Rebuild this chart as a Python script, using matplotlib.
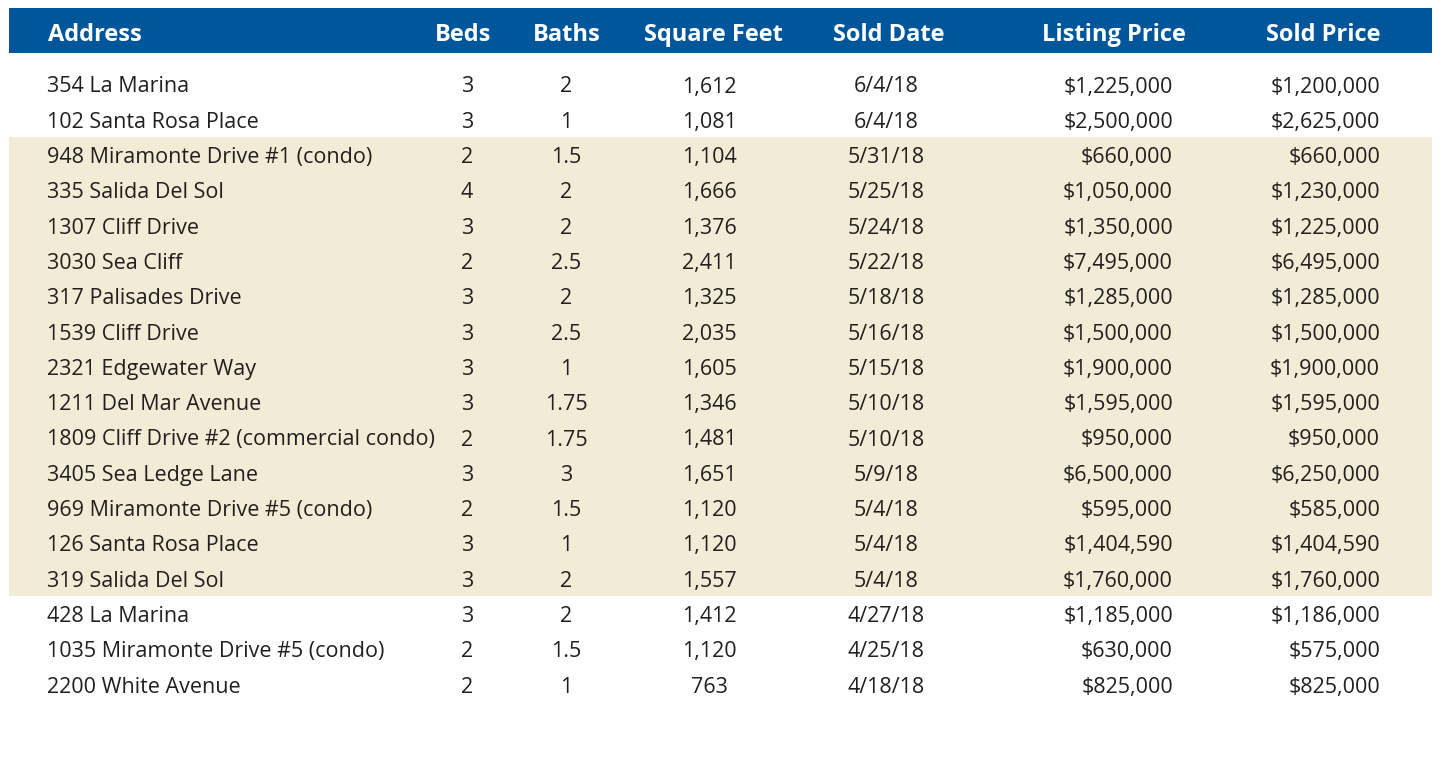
import matplotlib.pyplot as plt
from matplotlib.patches import Rectangle

plt.rcParams['font.family'] = ['Open Sans', 'DejaVu Sans']

headers = ["Address", "Beds", "Baths", "Square Feet", "Sold Date", "Listing Price", "Sold Price"]

addresses = [
    "354 La Marina", "102 Santa Rosa Place", "948 Miramonte Drive #1 (condo)",
    "335 Salida Del Sol", "1307 Cliff Drive", "3030 Sea Cliff", "317 Palisades Drive",
    "1539 Cliff Drive", "2321 Edgewater Way", "1211 Del Mar Avenue",
    "1809 Cliff Drive #2 (commercial condo)", "3405 Sea Ledge Lane",
    "969 Miramonte Drive #5 (condo)", "126 Santa Rosa Place", "319 Salida Del Sol",
    "428 La Marina", "1035 Miramonte Drive #5 (condo)", "2200 White Avenue",
]
beds = ["3", "3", "2", "4", "3", "2", "3", "3", "3", "3", "2", "3", "2", "3", "3", "3", "2", "2"]
baths = ["2", "1", "1.5", "2", "2", "2.5", "2", "2.5", "1", "1.75", "1.75", "3", "1.5", "1", "2",
         "2", "1.5", "1"]
sq_feet = ["1,612", "1,081", "1,104", "1,666", "1,376", "2,411", "1,325", "2,035", "1,605",
           "1,346", "1,481", "1,651", "1,120", "1,120", "1,557", "1,412", "1,120", "763"]
sold_dates = ["6/4/18", "6/4/18", "5/31/18", "5/25/18", "5/24/18", "5/22/18", "5/18/18",
              "5/16/18", "5/15/18", "5/10/18", "5/10/18", "5/9/18", "5/4/18", "5/4/18",
              "5/4/18", "4/27/18", "4/25/18", "4/18/18"]
listing_prices = ["$1,225,000", "$2,500,000", "$660,000", "$1,050,000", "$1,350,000",
                  "$7,495,000", "$1,285,000", "$1,500,000", "$1,900,000", "$1,595,000",
                  "$950,000", "$6,500,000", "$595,000", "$1,404,590", "$1,760,000",
                  "$1,185,000", "$630,000", "$825,000"]
sold_prices = ["$1,200,000", "$2,625,000", "$660,000", "$1,230,000", "$1,225,000",
               "$6,495,000", "$1,285,000", "$1,500,000", "$1,900,000", "$1,595,000",
               "$950,000", "$6,250,000", "$585,000", "$1,404,590", "$1,760,000",
               "$1,186,000", "$575,000", "$825,000"]
# rows sold in May get the beige band
highlighted = [sd.startswith("5/") for sd in sold_dates]

BLUE = "#00569b"
BEIGE = "#f2ebd5"
INK = "#231f20"

fig = plt.figure(figsize=(14.47, 7.66), dpi=100)
ax = fig.add_axes([0, 0, 1, 1])
ax.set_xlim(0, 1447)
ax.set_ylim(766, 0)
ax.axis("off")

# header bar
ax.add_patch(Rectangle((9, 8), 1423, 45, color=BLUE, lw=0))
header_x = [48, 463, 567, 713, 889, 1114, 1323]
header_ha = ["left", "center", "center", "center", "center", "center", "center"]
for h, x, ha in zip(headers, header_x, header_ha):
    ax.text(x, 35, h, color="white", fontsize=17, fontweight="bold", ha=ha, va="center")

row0, step = 84, 35.3
columns = [
    (addresses, 47, "left"),
    (beds, 467, "center"),
    (baths, 566, "center"),
    (sq_feet, 709, "center"),
    (sold_dates, 886, "center"),
    (listing_prices, 1173, "right"),
    (sold_prices, 1380, "right"),
]

for i, hl in enumerate(highlighted):
    y = row0 + i * step
    if hl:
        ax.add_patch(Rectangle((9, y - step / 2), 1423, step, color=BEIGE, lw=0))
    for values, x, ha in columns:
        ax.text(x, y + 3, values[i], color=INK, fontsize=15.5, ha=ha, va="center")

fig.savefig("out.png", dpi=100, facecolor="white")
